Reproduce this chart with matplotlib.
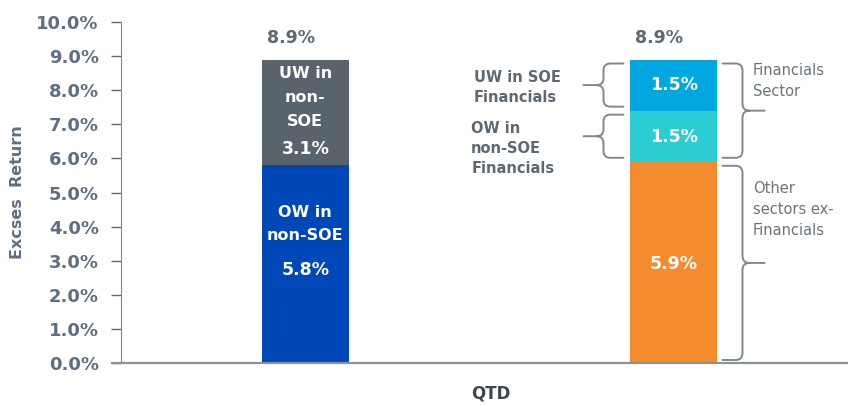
import matplotlib.pyplot as plt
from matplotlib.path import Path
from matplotlib.patches import PathPatch

plt.rcParams['font.family'] = ['DejaVu Sans']

# data (% excess return, QTD)
bar_pos = [0, 1]
left_parts = [5.8, 3.1]            # OW in non-SOE, UW in non-SOE
left_colors = ['#0047b8', '#59636b']
right_parts = [5.9, 1.5, 1.5]      # other sectors, OW non-SOE fin, UW SOE fin
right_colors = ['#f48c2f', '#2ccdd2', '#00a8df']
totals = [8.9, 8.9]
yticks = [0, 1, 2, 3, 4, 5, 6, 7, 8, 9, 10]

txt = '#5d6873'
brace_c = '#7f8890'

fig = plt.figure(figsize=(8.48, 4.05), dpi=100)
ax = fig.add_axes([121 / 848, 42 / 405, 727 / 848, 341 / 405])

w = 0.236
bottom = 0
for v, c in zip(left_parts, left_colors):
    ax.bar(bar_pos[0], v, w, bottom=bottom, color=c, zorder=2)
    bottom += v
bottom = 0
for v, c in zip(right_parts, right_colors):
    ax.bar(bar_pos[1], v, w, bottom=bottom, color=c, zorder=2)
    bottom += v

ax.set_xlim(-0.5, 1.472)
ax.set_ylim(0, 10)
ax.set_yticks(yticks)
ax.set_yticklabels([f'{t:.1f}%' for t in yticks])
ax.set_xticks([])
for s in ['top', 'right']:
    ax.spines[s].set_visible(False)
ax.spines['left'].set_color('#7f8890')
ax.spines['bottom'].set_color('#8a9299')
ax.spines['bottom'].set_linewidth(1.6)
# bottom axis line runs under the 0% tick as well
ax.plot([-0.012, 0], [0, 0], transform=ax.transAxes, color='#8a9299', lw=1.6, clip_on=False)
ax.tick_params(axis='y', colors='#5d6873', length=7, width=1, labelsize=13, pad=9)
for lab in ax.get_yticklabels():
    lab.set_fontweight('bold')
    lab.set_color('#5f6f80')
ax.set_ylabel('Excses  Return', fontsize=11.5, fontweight='bold', color='#5f6f80')
ax.yaxis.set_label_coords(-0.132, 0.5)
ax.set_xlabel('QTD', fontsize=12, fontweight='bold', color='#3d4650')
ax.xaxis.set_label_coords(0.508, -0.062)

# totals
for xp, t in zip(bar_pos, totals):
    ax.text(xp - 0.04, t + 0.62, f'{t:.1f}%', ha='center', va='center',
            fontsize=12.5, fontweight='bold', color=txt)

# left bar labels
wk = dict(ha='center', va='center', fontsize=11.5, fontweight='bold', color='white', zorder=3)
pk = dict(wk, fontsize=12.5)
ax.text(bar_pos[0], 8.5, 'UW in', **wk)
ax.text(bar_pos[0], 7.8, 'non-', **wk)
ax.text(bar_pos[0], 7.09, 'SOE', **wk)
ax.text(bar_pos[0], 6.29, f'{left_parts[1]:.1f}%', **pk)
ax.text(bar_pos[0], 4.08, 'OW in\nnon-SOE', linespacing=1.65, **wk)
ax.text(bar_pos[0], 2.73, f'{left_parts[0]:.1f}%', **pk)

# right bar labels
ax.text(bar_pos[1], 8.14, f'{right_parts[2]:.1f}%', **pk)
ax.text(bar_pos[1], 6.62, f'{right_parts[1]:.1f}%', **pk)
ax.text(bar_pos[1], 2.89, f'{right_parts[0]:.1f}%', **pk)

# side labels
gk = dict(ha='left', va='top', fontsize=10.5, fontweight='bold', color=txt, linespacing=1.42)
ax.text(0.457, 8.6, 'UW in SOE\nFinancials', **gk)
ax.text(0.45, 7.09, 'OW in\nnon-SOE\nFinancials', **gk)
nk = dict(ha='left', va='top', fontsize=10.5, color='#6b747c', linespacing=1.5)
ax.text(1.214, 8.8, 'Financials\nSector', **nk)
ax.text(1.214, 5.33, 'Other\nsectors ex-\nFinancials', **nk)


def brace(y_top, y_bot, x_end, x_mid, x_tip, r=7):
    # curly brace in pixel coordinates, opening toward x_end
    d = 1 if x_tip > x_end else -1
    ym = (y_top + y_bot) / 2
    verts = [(x_end, y_top), (x_mid - d * r, y_top), (x_mid, y_top), (x_mid, y_top - r),
             (x_mid, ym + r), (x_mid, ym), (x_mid + d * r, ym), (x_tip, ym),
             (x_mid + d * r, ym), (x_mid, ym), (x_mid, ym - r),
             (x_mid, y_bot + r), (x_mid, y_bot), (x_mid - d * r, y_bot), (x_end, y_bot)]
    codes = [Path.MOVETO, Path.LINETO, Path.CURVE3, Path.CURVE3,
             Path.LINETO, Path.CURVE3, Path.CURVE3, Path.LINETO,
             Path.MOVETO, Path.CURVE3, Path.CURVE3,
             Path.LINETO, Path.CURVE3, Path.CURVE3, Path.LINETO]
    fig.patches.append(PathPatch(Path(verts, codes), fill=False, edgecolor=brace_c,
                                 lw=1.4, transform=None, capstyle='round'))


fig.canvas.draw()
tr = ax.transData


def px(x, y):
    return tr.transform((x, y))


cum = [0, right_parts[0], right_parts[0] + right_parts[1], sum(right_parts)]
xl = px(bar_pos[1] - w / 2, 0)[0]
xr = px(bar_pos[1] + w / 2, 0)[0]
gap = 4
# left braces
for lo, hi in [(cum[2], cum[3]), (cum[1], cum[2])]:
    yt = px(0, hi)[1] - gap
    yb = px(0, lo)[1] + gap
    brace(yt, yb, xl - 7, xl - 27, xl - 47)
# right braces
brace(px(0, cum[3])[1] - gap, px(0, cum[1])[1] + gap, xr + 5, xr + 25, xr + 47)
brace(px(0, cum[1])[1] - gap, px(0, 0)[1] + 3, xr + 5, xr + 25, xr + 47)

fig.savefig('out.png', dpi=100)
